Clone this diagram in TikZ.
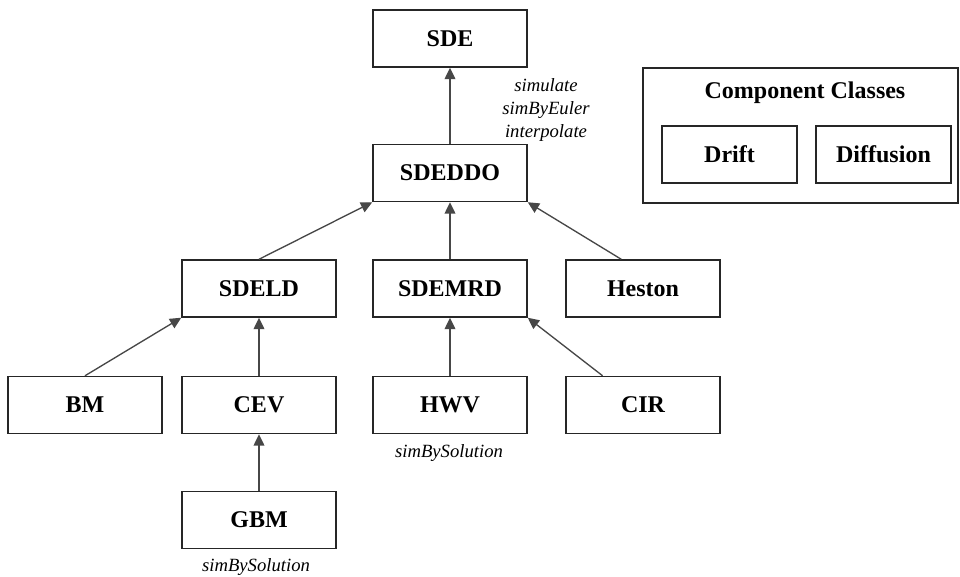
\documentclass[tikz,border=0pt]{standalone}
\usepackage{fontspec}
\setmainfont{Liberation Serif}
\usetikzlibrary{arrows.meta,calc}
\begin{document}
\begin{tikzpicture}[x=0.75pt,y=-0.75pt,
  cls/.style={draw=black!85, line width=1.1pt, minimum width=115.5pt, minimum height=42.75pt, inner sep=0pt, font=\fontsize{18}{20}\selectfont\bfseries},
  comp/.style={draw=black!85, line width=1.1pt, minimum width=101.25pt, minimum height=42.75pt, inner sep=0pt, font=\fontsize{18}{20}\selectfont\bfseries},
  group/.style={draw=black!85, line width=1.1pt, minimum width=236.25pt, minimum height=101.25pt, inner sep=0pt},
  inh/.style={draw=black!72, line width=1pt, -{Triangle[length=8.5pt,width=8pt]}},
  note/.style={font=\fontsize{14}{17.25}\selectfont\itshape, inner sep=0pt, align=center}]
\useasboundingbox (0,0) rectangle (960,577);
% class boxes
\node[cls] (sde)    at (450,38.5)  {SDE};
\node[cls] (sdeddo) at (450,173)   {SDEDDO};
\node[cls] (sdeld)  at (259,288.5) {SDELD};
\node[cls] (sdemrd) at (450,288.5) {SDEMRD};
\node[cls] (heston) at (643,288.5) {Heston};
\node[cls] (bm)     at (85,405)    {BM};
\node[cls] (cev)    at (259,405)   {CEV};
\node[cls] (hwv)    at (450,405)   {HWV};
\node[cls] (cir)    at (643,405)   {CIR};
\node[cls] (gbm)    at (259,520)   {GBM};
% component classes group
\node[group] (grp) at (800.5,135.5) {};
\node[font=\fontsize{18}{20}\selectfont\bfseries, inner sep=0pt] (grptitle) at (805,93) {Component Classes};
\node[comp] (drift) at (729.5,154.5) {Drift};
\node[comp] (diff)  at (883.5,154.5) {Diffusion};
% method notes
\node[note] (sdemeth) at (546,110) {simulate\\simByEuler\\interpolate};
\node[note] (hwvmeth) at (449,453) {simBySolution};
\node[note] (gbmmeth) at (256,567) {simBySolution};
% inheritance arrows
\draw[inh] (sdeddo) -- (sde);
\draw[inh] (sdeld.north) -- (sdeddo.south west);
\draw[inh] (sdemrd) -- (sdeddo);
\draw[inh] ($(heston.north west)!0.36!(heston.north east)$) -- (sdeddo.south east);
\draw[inh] (bm.north) -- (sdeld.south west);
\draw[inh] (cev) -- (sdeld);
\draw[inh] (hwv) -- (sdemrd);
\draw[inh] ($(cir.north west)!0.24!(cir.north east)$) -- (sdemrd.south east);
\draw[inh] (gbm) -- (cev);
\end{tikzpicture}
\end{document}
